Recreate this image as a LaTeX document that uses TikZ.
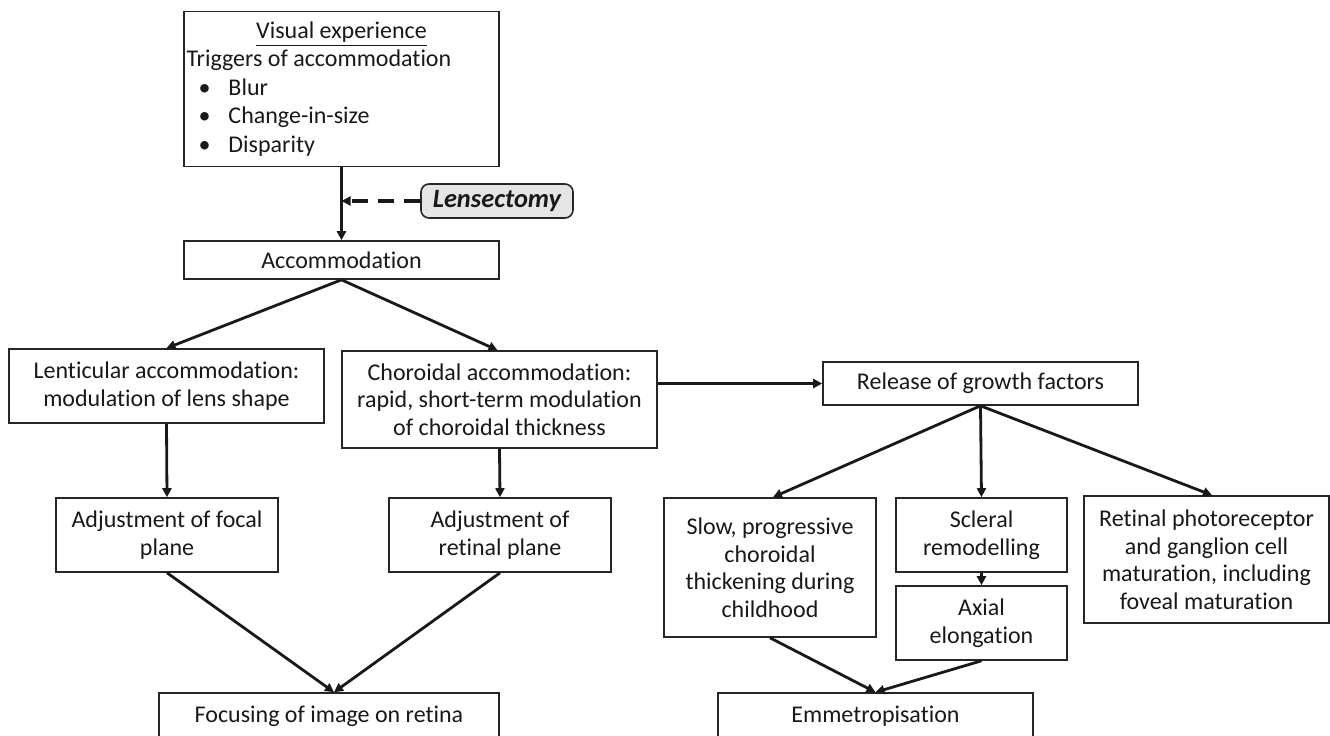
\documentclass[tikz,border=0pt]{standalone}
\usepackage{fontspec}
\setmainfont{Carlito}[Ligatures={NoCommon,NoContextual}]
\usetikzlibrary{arrows.meta}
\begin{document}
\begin{tikzpicture}[x=0.5pt,y=-0.5pt,
  box/.style={draw=black!85, line width=0.8pt, align=center, inner sep=1pt,
    font=\fontsize{12}{13.75}\selectfont, text=black!90},
  arr/.style={line width=1.4pt, draw=black!90, -{Triangle[length=4.5pt,width=4.5pt]}},
]
\fill[white] (0,0) rectangle (1330,735);
\useasboundingbox (0,0) rectangle (1330,735);

\node[box, align=left, minimum width=157.5pt, minimum height=77.5pt,
  font=\fontsize{12}{14.25}\selectfont] (vis) at (341.5,89)
  {\makebox[155pt][c]{\underline{Visual experience}}\\
   Triggers of accommodation\\
   \hspace*{6pt}\makebox[15pt][l]{•}Blur\\
   \hspace*{6pt}\makebox[15pt][l]{•}Change-in-size\\
   \hspace*{6pt}\makebox[15pt][l]{•}Disparity};
\node[box, fill=black!10, rounded corners=4pt, minimum width=76pt, minimum height=17pt,
  font={\fontsize{13.2}{14}\selectfont\bfseries\itshape}] (lens) at (497,201) {Lensectomy};
\node[box, minimum width=157.5pt, minimum height=19pt] (acc) at (341.5,260) {Accommodation};
\node[box, minimum width=157.5pt, minimum height=37pt] (lent) at (166.5,386)
  {Lenticular accommodation:\\modulation of lens shape};
\node[box, minimum width=157.5pt, minimum height=48.5pt] (chor) at (499.5,399.5)
  {Choroidal accommodation:\\rapid, short-term modulation\\of choroidal thickness};
\node[box, minimum width=157.5pt, minimum height=21.5pt] (rel) at (980.5,383.5)
  {Release of growth factors};
\node[box, minimum width=111pt, minimum height=37pt] (focal) at (167,535)
  {Adjustment of focal\\plane};
\node[box, minimum width=111pt, minimum height=37pt] (retpl) at (500,535)
  {Adjustment of\\retinal plane};
\node[box, minimum width=106pt, minimum height=69.5pt] (slow) at (770,567.5)
  {Slow, progressive\\choroidal\\thickening during\\childhood};
\node[box, minimum width=85.5pt, minimum height=37pt] (scl) at (981.5,535)
  {Scleral\\remodelling};
\node[box, minimum width=85.5pt, minimum height=37pt] (axial) at (981.5,623)
  {Axial\\elongation};
\node[box, minimum width=122.5pt, minimum height=63.5pt] (retcell) at (1206.5,559.5)
  {Retinal photoreceptor\\and ganglion cell\\maturation, including\\foveal maturation};
\node[box, minimum width=170pt, minimum height=23pt] (focus) at (329,716)
  {Focusing of image on retina};
\node[box, minimum width=157.5pt, minimum height=23pt] (emm) at (875.5,716)
  {Emmetropisation};

\draw[arr] (vis.south) -- (acc.north);
\draw[arr, line width=1.6pt, dash pattern=on 8pt off 5pt] (lens.west) -- (lens.west -| vis.south);
\draw[arr] (acc.south) -- (lent.north);
\draw[arr] (acc.south) -- ([xshift=-1pt]chor.north);
\draw[arr] (lent.south) -- (focal.north);
\draw[arr] (chor.south) -- (retpl.north);
\draw[arr] (chor.east |- rel.west) -- (rel.west);
\draw[arr] (rel.south) -- ([xshift=1.5pt]slow.north);
\draw[arr] (rel.south) -- (scl.north);
\draw[arr] (rel.south) -- ([xshift=2.75pt]retcell.north);
\draw[arr] (scl.south) -- (axial.north);
\draw[arr] (focal.south) -- ([xshift=2.5pt]focus.north);
\draw[arr] (retpl.south) -- ([xshift=2.5pt]focus.north);
\draw[arr] (slow.south) -- (emm.north);
\draw[arr] (axial.south) -- (emm.north);
\end{tikzpicture}
\end{document}
